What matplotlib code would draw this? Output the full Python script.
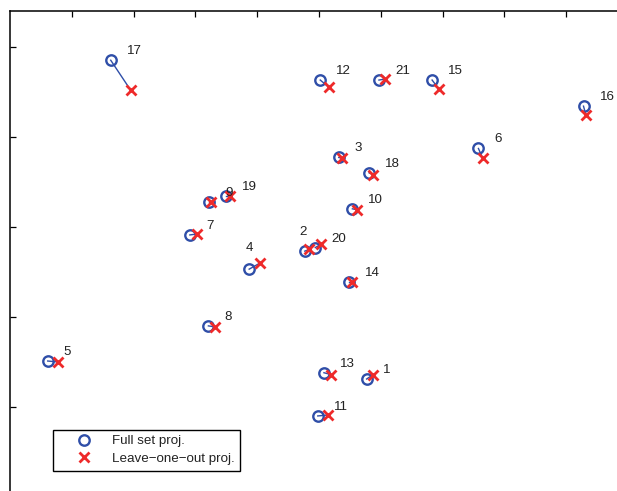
import numpy as np
import matplotlib
matplotlib.use("Agg")
import matplotlib.pyplot as plt
from matplotlib.lines import Line2D

plt.rcParams["font.family"] = ["Liberation Sans", "DejaVu Sans"]

# point ids and projected coordinates
ids = np.arange(1, 22)
full_x = [5.77, 4.77, 5.32, 3.87, 0.61, 7.58, 2.91, 3.21, 3.22, 5.54, 4.98,
          5.02, 5.08, 5.49, 6.83, 9.28, 1.63, 5.81, 3.49, 4.94, 5.97]
full_y = [0.31, 1.73, 2.77, 1.53, 0.51, 2.87, 1.91, 0.90, 2.28, 2.20, -0.10,
          3.63, 0.38, 1.39, 3.63, 3.34, 3.85, 2.60, 2.34, 1.77, 3.63]
loo_x = [5.88, 4.84, 5.38, 4.05, 0.77, 7.65, 3.02, 3.31, 3.26, 5.61, 5.14,
         5.16, 5.19, 5.53, 6.94, 9.32, 1.95, 5.87, 3.56, 5.04, 6.06]
loo_y = [0.36, 1.75, 2.76, 1.60, 0.50, 2.76, 1.92, 0.89, 2.28, 2.19, -0.09,
         3.55, 0.36, 1.39, 3.53, 3.24, 3.52, 2.58, 2.34, 1.81, 3.64]

blue = "#2f4ea8"
red = "#ee2a2a"

# label offsets (a couple were moved by hand to avoid overlap)
label_off = {i: (0.26, 0.10) for i in ids}
label_off[2] = (-0.09, 0.21)
label_off[4] = (-0.05, 0.24)

fig = plt.figure(figsize=(6.17, 4.91), dpi=100)
ax = fig.add_axes([10 / 617, -6 / 491, 618 / 617, 486.3 / 491])

for i in range(len(ids)):
    ax.plot([full_x[i], loo_x[i]], [full_y[i], loo_y[i]], color=blue, lw=1.0, zorder=1)

ax.plot(full_x, full_y, "o", ls="none", mfc="none", mec=blue, ms=7.5, mew=1.7, zorder=2)
ax.plot(loo_x, loo_y, "x", ls="none", color=red, ms=6.5, mew=2.0, zorder=3)

for i, n in enumerate(ids):
    dx, dy = label_off[n]
    ax.text(full_x[i] + dx, full_y[i] + dy, str(n), fontsize=9.6, color="#222222",
            ha="left", va="center", zorder=4)

ax.set_xlim(0, 10)
ax.set_ylim(-1, 4.4)
ax.set_xticks(np.arange(1, 10))
ax.set_yticks(np.arange(0, 5))
ax.tick_params(direction="in", length=4, width=0.9, top=True, right=True,
               labelleft=False, labelbottom=False)
for s in ax.spines.values():
    s.set_linewidth(1.1)

handles = [
    Line2D([], [], marker="o", ls="none", mfc="none", mec=blue, ms=7.5, mew=1.7),
    Line2D([], [], marker="x", ls="none", color=red, ms=6.5, mew=2.0),
]
leg = fig.legend(handles, ["Full set proj.", "Leave\u2212one\u2212out proj."],
                 loc="lower left", bbox_to_anchor=(53.3 / 617, 20.3 / 491),
                 borderaxespad=0, fontsize=9.6, fancybox=False, framealpha=1,
                 edgecolor="black", handlelength=3.75, handletextpad=0.2,
                 labelspacing=0.4, borderpad=0.42, numpoints=1)
leg.get_frame().set_linewidth(1.0)
for t in leg.get_texts():
    t.set_color("#222222")

fig.savefig("out.png", dpi=100)
